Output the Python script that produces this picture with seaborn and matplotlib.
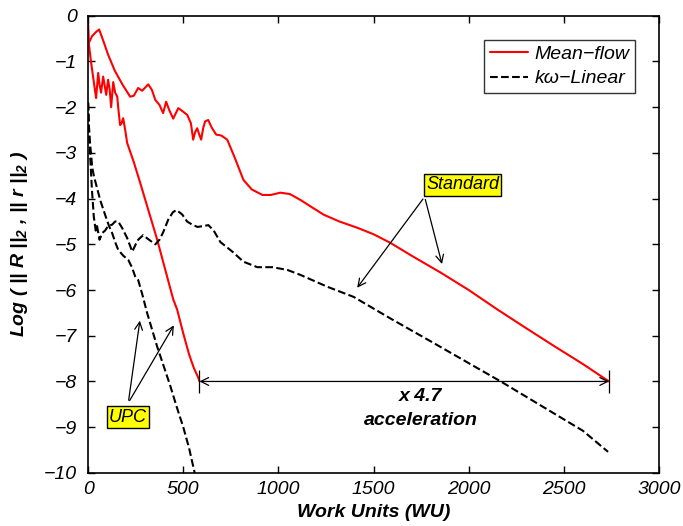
import numpy as np
import pandas as pd
import seaborn as sns
import matplotlib
matplotlib.use("Agg")
import matplotlib.pyplot as plt

# Mean-flow, standard solver
mf_std_x = [0, 20, 40, 58, 80, 105, 140, 180, 221, 240, 263, 284, 316, 335, 353, 375, 394, 410,
            425, 447, 474, 500, 521, 540, 552, 562, 573, 584, 594, 605, 615, 631, 650, 673, 700,
            731, 770, 816, 860, 916, 960, 1010, 1060, 1116, 1180, 1237, 1320, 1416, 1500, 1589,
            1700, 1853, 2000, 2152, 2300, 2450, 2600, 2737]
mf_std_y = [-0.63, -0.45, -0.36, -0.3, -0.55, -0.85, -1.2, -1.5, -1.77, -1.75, -1.58, -1.64, -1.5,
            -1.62, -1.84, -1.95, -2.13, -1.88, -2.05, -2.25, -2.02, -2.1, -2.17, -2.35, -2.71,
            -2.55, -2.46, -2.6, -2.71, -2.45, -2.31, -2.28, -2.45, -2.6, -2.62, -2.71, -3.1,
            -3.59, -3.8, -3.92, -3.92, -3.87, -3.9, -4.03, -4.2, -4.35, -4.5, -4.64, -4.78,
            -4.97, -5.25, -5.62, -6.0, -6.43, -6.83, -7.23, -7.62, -8.0]

# Mean-flow, UPC
mf_upc_x = [0, 5, 15, 30, 42, 53, 60, 68, 79, 88, 95, 105, 113, 121, 132, 142, 153, 158, 168,
            176, 184, 195, 205, 240, 274, 320, 363, 405, 447, 468, 500, 530, 555, 579, 585]
mf_upc_y = [-0.15, -0.65, -1.0, -1.45, -1.8, -1.25, -1.5, -1.68, -1.33, -1.55, -1.73, -1.4, -1.6,
            -2.0, -1.45, -1.68, -1.77, -2.0, -2.39, -2.35, -2.24, -2.5, -2.78, -3.2, -3.66, -4.3,
            -4.9, -5.55, -6.2, -6.43, -6.95, -7.4, -7.7, -7.92, -8.0]

# k-omega linear, standard solver
kw_std_x = [0, 5, 10, 20, 30, 40, 47, 60, 75, 89, 105, 126, 142, 158, 180, 205, 232, 250, 263,
            289, 320, 353, 375, 395, 421, 445, 463, 480, 495, 520, 547, 575, 605, 632, 660, 695,
            758, 816, 889, 968, 1047, 1116, 1258, 1395, 1600, 1816, 2000, 2168, 2400, 2600, 2732]
kw_std_y = [-1.9, -2.5, -3.0, -3.8, -4.4, -4.7, -4.6, -4.9, -4.75, -4.7, -4.6, -4.57, -4.5, -4.5,
            -4.65, -4.86, -5.16, -5.0, -4.9, -4.8, -4.9, -5.0, -4.9, -4.73, -4.46, -4.3, -4.25,
            -4.3, -4.35, -4.5, -4.57, -4.62, -4.6, -4.58, -4.7, -4.95, -5.16, -5.38, -5.5, -5.5,
            -5.56, -5.67, -5.93, -6.15, -6.65, -7.16, -7.6, -8.0, -8.58, -9.08, -9.54]

# k-omega linear, UPC
kw_upc_x = [0, 4, 8, 15, 21, 30, 47, 65, 89, 110, 126, 142, 158, 185, 211, 230, 247, 263, 285,
            310, 335, 363, 400, 432, 465, 500, 530, 560]
kw_upc_y = [-1.9, -2.4, -2.7, -3.0, -3.3, -3.5, -3.77, -4.05, -4.35, -4.6, -4.75, -4.95, -5.12,
            -5.25, -5.34, -5.5, -5.7, -5.78, -6.1, -6.5, -6.85, -7.24, -7.7, -8.1, -8.55, -9.0,
            -9.45, -10.0]

sns.set_style("ticks")
plt.rcParams["font.family"] = ["Liberation Sans", "DejaVu Sans"]
plt.rcParams["text.color"] = "black"
plt.rcParams["axes.labelcolor"] = "black"
plt.rcParams["xtick.color"] = "black"
plt.rcParams["ytick.color"] = "black"
plt.rcParams["mathtext.fontset"] = "custom"
plt.rcParams["mathtext.rm"] = "Liberation Sans:italic:bold"
plt.rcParams["mathtext.it"] = "Liberation Sans:italic:bold"
plt.rcParams["mathtext.bf"] = "Liberation Sans:italic:bold"
plt.rcParams["mathtext.default"] = "rm"

fig = plt.figure(figsize=(6.83, 5.26), dpi=100)
ax = fig.add_axes([0.129, 0.101, 0.836, 0.869])

red = "#ff0000"
lw = 1.5
sns.lineplot(x=mf_std_x, y=mf_std_y, ax=ax, color=red, lw=lw, sort=False, label="Mean\u2212flow")
sns.lineplot(x=mf_upc_x, y=mf_upc_y, ax=ax, color=red, lw=lw, sort=False)
sns.lineplot(x=kw_std_x, y=kw_std_y, ax=ax, color="black", lw=lw, sort=False,
             linestyle="--", label="k\u03c9\u2212Linear")
sns.lineplot(x=kw_upc_x, y=kw_upc_y, ax=ax, color="black", lw=lw, sort=False, linestyle="--")

ax.set_xlim(0, 3000)
ax.set_ylim(-10, 0)
ax.set_xticks(np.arange(0, 3001, 500))
ax.set_yticks(np.arange(-10, 1, 1))
ax.tick_params(direction="in", top=True, right=True, length=5, width=1, labelsize=14)
ax.tick_params(axis="y", pad=8)
ax.tick_params(axis="x", pad=6)
ax.set_yticklabels([f"\u2212{abs(v)}" if v < 0 else str(v) for v in range(-10, 1)])
for lab in ax.get_xticklabels() + ax.get_yticklabels():
    lab.set_style("italic")
for sp in ax.spines.values():
    sp.set_linewidth(1.2)
    sp.set_color("black")

ax.set_xlabel("Work Units (WU)", fontsize=14, fontweight="bold", style="italic", labelpad=4)
ax.set_ylabel("Log ( || R ||$_2$ , || r ||$_2$ )", fontsize=14, fontweight="bold",
              style="italic", labelpad=10)

leg = ax.legend(loc="upper right", bbox_to_anchor=(0.958, 0.948), fontsize=14, frameon=True,
                fancybox=False, edgecolor="black", handlelength=2.0, handletextpad=0.3,
                borderpad=0.3, labelspacing=0.35, borderaxespad=0)
leg.get_frame().set_linewidth(1.0)
for t in leg.get_texts():
    t.set_style("italic")

arrow = dict(arrowstyle="->", color="black", lw=0.9, mutation_scale=14)
box = dict(boxstyle="square,pad=0.12", fc="#ffff00", ec="black", lw=1)

ax.text(1968, -3.70, "Standard", fontsize=13, style="italic", ha="center", va="center", bbox=box)
ax.annotate("", xy=(1405, -6.0), xytext=(1768, -3.96), arrowprops=arrow)
ax.annotate("", xy=(1863, -5.49), xytext=(1768, -3.96), arrowprops=arrow)

ax.text(210, -8.78, "UPC", fontsize=13, style="italic", ha="center", va="center", bbox=box)
ax.annotate("", xy=(274, -6.61), xytext=(211, -8.47), arrowprops=arrow)
ax.annotate("", xy=(458, -6.72), xytext=(211, -8.47), arrowprops=arrow)

ax.annotate("", xy=(585, -8.0), xytext=(2737, -8.0),
            arrowprops=dict(arrowstyle="<->", color="black", lw=0.9, mutation_scale=14,
                            shrinkA=0, shrinkB=0))
ax.vlines([585, 2737], -8.25, -7.75, color="black", lw=0.9)
ax.text(1747, -8.34, "x 4.7", fontsize=14, fontweight="bold", style="italic",
        ha="center", va="center")
ax.text(1747, -8.86, "acceleration", fontsize=14, fontweight="bold", style="italic",
        ha="center", va="center")

fig.savefig("out.png", dpi=100, facecolor="white")
